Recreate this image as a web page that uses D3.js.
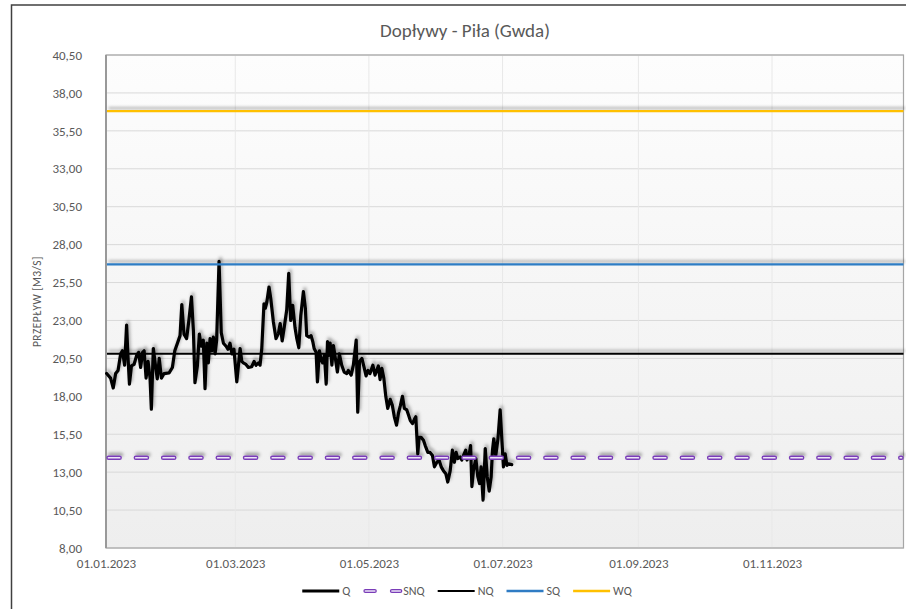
<!DOCTYPE html>
<html>
<head>
<meta charset="utf-8">
<script src="https://cdn.jsdelivr.net/npm/d3@7"></script>
<style>
  html, body { margin: 0; padding: 0; background: #ffffff; }
  svg { display: block; font-family: Carlito, Lato, "Open Sans", sans-serif; }
</style>
</head>
<body>
<svg id="chart" width="906" height="609"></svg>
<script>
// Daily inflow at Piła (Gwda), 2023: position in days since 1 Jan and flow in m3/s
const qDay = [
  0.3, 2.1, 3.3, 4.4, 5.5, 6.7, 7.5, 8.5, 9.4, 10.0, 10.7, 11.6, 12.8, 14.0, 14.9, 15.8, 16.7, 17.4, 18.3, 19.2,
  20.1, 20.7, 21.6, 22.7, 23.4, 24.3, 25.3, 26.5, 28.8, 30.3, 31.4, 32.6, 33.8, 34.6, 35.6, 36.8, 37.9, 39.0, 39.9, 40.6,
  41.7, 42.6, 43.5, 44.4, 45.2, 46.0, 46.7, 47.5, 48.3, 49.0, 49.8, 50.5, 51.6, 52.6, 53.6, 54.8, 55.7, 56.6, 57.5, 58.4,
  59.7, 61.2, 62.0, 62.7, 63.9, 65.0, 66.5, 67.6, 68.5, 69.6, 70.3, 71.1, 72.1, 72.7, 73.4, 74.4, 75.2, 76.4, 77.6, 78.7,
  79.5, 80.4, 81.4, 82.5, 83.4, 84.3, 85.2, 86.3, 87.1, 88.0, 88.9, 90.1, 91.0, 91.6, 92.7, 93.6, 94.4, 95.0, 95.9, 96.5,
  97.4, 98.2, 98.9, 99.7, 100.5, 101.1, 101.7, 102.3, 103.1, 103.8, 104.7, 105.6, 106.5, 107.6, 108.7, 109.9, 110.6, 111.9, 112.9, 114.2,
  114.9, 115.7, 116.8, 117.8, 118.7, 119.6, 120.5, 121.8, 122.8, 124.3, 125.1, 125.9, 126.8, 127.7, 128.6, 129.7, 130.7, 131.6, 132.6, 133.5,
  134.4, 135.3, 136.2, 137.3, 138.0, 138.9, 139.9, 140.8, 141.4, 142.3, 142.9, 143.8, 144.9, 145.7, 146.9, 147.9, 149.0, 149.9, 151.0, 152.0,
  153.0, 154.0, 155.1, 156.0, 157.1, 158.1, 159.0, 159.8, 160.6, 161.6, 162.4, 163.2, 164.2, 164.8, 165.8, 166.4, 167.0, 167.7, 168.8, 169.7,
  170.5, 171.2, 172.1, 173.1, 174.0, 174.9, 175.8, 176.4, 177.0, 177.9, 178.9, 179.9, 180.7, 181.4, 182.2, 183.0, 183.7, 185.2
];
const qFlow = [
  19.5, 19.2, 18.55, 19.5, 19.7, 20.8, 21.0, 20.05, 22.7, 20.7, 18.8, 20.0, 20.1, 20.7, 20.9, 19.9, 20.9, 21.0, 19.2, 20.3,
  19.2, 17.15, 21.15, 19.9, 19.15, 20.5, 19.2, 19.5, 19.55, 19.9, 21.0, 21.5, 22.0, 24.05, 22.1, 21.8, 23.1, 24.55, 22.3, 18.9,
  20.0, 22.1, 21.3, 21.7, 18.5, 21.5, 20.2, 21.8, 21.0, 21.9, 20.8, 21.7, 26.9, 22.2, 21.5, 21.3, 21.1, 21.5, 20.8, 21.1,
  18.95, 21.15, 20.3, 20.2, 20.1, 19.9, 19.95, 20.3, 20.05, 20.2, 20.05, 21.15, 24.1, 23.8, 24.2, 25.2, 24.45, 22.9, 21.8, 22.15,
  22.8, 21.65, 22.6, 23.7, 26.1, 23.0, 24.0, 22.5, 21.8, 21.2, 23.3, 24.9, 23.8, 22.0, 21.9, 22.0, 21.6, 21.15, 20.9, 18.95,
  21.0, 20.4, 20.2, 20.7, 18.8, 21.6, 20.7, 21.5, 20.05, 21.35, 20.5, 19.6, 20.8, 20.05, 19.6, 19.5, 19.7, 19.4, 20.05, 21.7,
  16.95, 20.3, 20.5, 19.9, 19.35, 19.7, 19.5, 20.05, 19.4, 20.0, 19.1, 19.85, 19.2, 18.0, 17.2, 17.8, 17.4, 16.65, 16.1, 16.9,
  17.4, 18.0, 17.2, 17.1, 16.8, 16.4, 16.2, 16.5, 16.65, 14.2, 15.3, 15.3, 15.1, 14.75, 14.3, 14.3, 14.1, 13.35, 13.65, 13.8,
  13.35, 13.1, 12.9, 12.35, 13.1, 14.45, 13.65, 14.3, 13.9, 14.0, 13.8, 14.1, 14.45, 13.8, 14.2, 14.75, 12.05, 13.1, 13.9, 12.7,
  12.25, 13.35, 11.15, 14.55, 12.7, 11.75, 12.7, 14.45, 15.2, 14.1, 15.2, 17.1, 15.1, 13.35, 14.2, 13.45, 13.55, 13.5
];

// Characteristic flows (m3/s)
const snqValue = 13.95;
const nqValue = 20.8;
const sqValue = 26.7;
const wqValue = 36.8;

const yTicks = [8, 10.5, 13, 15.5, 18, 20.5, 23, 25.5, 28, 30.5, 33, 35.5, 38, 40.5];
const seriesNames = ["Q", "SNQ", "NQ", "SQ", "WQ"];
const chartTitle = "Dopływy - Piła (Gwda)";
const yTitle = "PRZEPŁYW [M3/S]";

const yearStart = new Date(2023, 0, 1);
const yearEnd = new Date(2023, 11, 31);

const svg = d3.select("#chart");
const W = 906, H = 609;
const plot = { left: 106, right: 903.5, top: 55, bottom: 548 };

const x = d3.scaleTime().domain([yearStart, yearEnd]).range([plot.left, plot.right]);
const y = d3.scaleLinear().domain([8, 40.5]).range([plot.bottom, plot.top]);

const dayToDate = d => new Date(yearStart.getTime() + d * 864e5);
const qData = qDay.map((d, i) => ({ date: dayToDate(d), value: qFlow[i] }));

const textColor = "#595959";

// Defs: plot gradient and soft line shadow
const defs = svg.append("defs");
const grad = defs.append("linearGradient").attr("id", "plotBg")
  .attr("x1", 0).attr("y1", 0).attr("x2", 0).attr("y2", 1);
grad.append("stop").attr("offset", "0%").attr("stop-color", "#fdfdfd");
grad.append("stop").attr("offset", "100%").attr("stop-color", "#eeeeee");

const shadow = defs.append("filter").attr("id", "lineShadow")
  .attr("filterUnits", "userSpaceOnUse")
  .attr("x", 0).attr("y", 0).attr("width", W).attr("height", H);
shadow.append("feDropShadow")
  .attr("dx", 1.5).attr("dy", -3).attr("stdDeviation", 1.7)
  .attr("flood-color", "#000").attr("flood-opacity", 0.3);

// Outer chart frame
svg.append("rect").attr("x", 11.5).attr("y", 5).attr("width", W + 20).attr("height", H + 20)
  .attr("fill", "#ffffff").attr("stroke", "#404040").attr("stroke-width", 1.5);

// Title
svg.append("text").attr("x", 465).attr("y", 37).attr("text-anchor", "middle")
  .attr("font-size", 19).attr("fill", textColor).text(chartTitle);

// Plot background
svg.append("rect").attr("x", plot.left).attr("y", plot.top)
  .attr("width", plot.right - plot.left).attr("height", plot.bottom - plot.top)
  .attr("fill", "url(#plotBg)");

// Horizontal gridlines
svg.append("g").selectAll("line").data(yTicks).join("line")
  .attr("x1", plot.left).attr("x2", plot.right)
  .attr("y1", d => y(d)).attr("y2", d => y(d))
  .attr("stroke", "#d9d9d9").attr("stroke-width", 1);

// Vertical gridlines at date ticks
const xTicks = d3.timeMonth.every(2).range(yearStart, yearEnd);
svg.append("g").selectAll("line").data(xTicks.slice(1)).join("line")
  .attr("x1", d => x(d)).attr("x2", d => x(d))
  .attr("y1", plot.top).attr("y2", plot.bottom)
  .attr("stroke", "#e8e8e8").attr("stroke-width", 1);

// Plot border
svg.append("rect").attr("x", plot.left).attr("y", plot.top)
  .attr("width", plot.right - plot.left).attr("height", plot.bottom - plot.top)
  .attr("fill", "none").attr("stroke", "#a6a6a6").attr("stroke-width", 1.2);
svg.append("line").attr("x1", plot.left).attr("x2", plot.left)
  .attr("y1", plot.top).attr("y2", plot.bottom)
  .attr("stroke", "#999999").attr("stroke-width", 2);

// Y axis labels (right-aligned, decimal comma)
const fmt = d => d3.format(".2f")(d).replace(".", ",");
const yAxis = d3.axisLeft(y).tickValues(yTicks).tickFormat(fmt).tickSize(0).tickPadding(0);
const yAxisG = svg.append("g").attr("transform", "translate(82,0)").call(yAxis);
yAxisG.select(".domain").remove();
yAxisG.selectAll("text").attr("fill", textColor).attr("font-size", 13)
  .attr("font-family", null);
yAxisG.attr("font-family", null);

// X axis labels
const xAxis = d3.axisBottom(x).tickValues(xTicks).tickFormat(d3.timeFormat("%d.%m.%Y")).tickSize(0).tickPadding(0);
const xAxisG = svg.append("g").attr("transform", `translate(0,${plot.bottom + 11})`).call(xAxis);
xAxisG.select(".domain").remove();
xAxisG.selectAll("text").attr("fill", textColor).attr("font-size", 13);
xAxisG.attr("font-family", null);

// Y axis title
svg.append("text")
  .attr("transform", `translate(41,${(plot.top + plot.bottom) / 2}) rotate(-90)`)
  .attr("text-anchor", "middle").attr("font-size", 11.5).attr("fill", textColor)
  .attr("letter-spacing", 0.4)
  .text(yTitle);

// Series
const series = svg.append("g");
const qLine = d3.line().x(d => x(d.date)).y(d => y(d.value)).curve(d3.curveLinear);

series.append("path").datum(qData)
  .attr("d", qLine).attr("fill", "none")
  .attr("stroke", "#000000").attr("stroke-width", 3.2)
  .attr("stroke-linejoin", "round").attr("stroke-linecap", "round")
  .attr("filter", "url(#lineShadow)");

function hLine(value, color, width) {
  series.append("line")
    .attr("x1", plot.left + 1).attr("x2", plot.right)
    .attr("y1", y(value)).attr("y2", y(value))
    .attr("stroke", color).attr("stroke-width", width)
    .attr("filter", "url(#lineShadow)");
}

// SNQ: outlined dashes
const snqG = series.append("g").attr("filter", "url(#lineShadow)");
snqG.append("line")
  .attr("x1", plot.left + 2.5).attr("x2", plot.right - 2)
  .attr("y1", y(snqValue)).attr("y2", y(snqValue))
  .attr("stroke", "#7a3db8").attr("stroke-width", 4.4)
  .attr("stroke-dasharray", "11.2,16.1").attr("stroke-linecap", "round");
snqG.append("line")
  .attr("x1", plot.left + 2.5).attr("x2", plot.right - 2)
  .attr("y1", y(snqValue)).attr("y2", y(snqValue))
  .attr("stroke", "#ece4f6").attr("stroke-width", 1.7)
  .attr("stroke-dasharray", "11.2,16.1").attr("stroke-linecap", "round");

hLine(nqValue, "#000000", 2);
hLine(sqValue, "#2f7cc4", 2.4);
hLine(wqValue, "#ffc000", 2.4);

// Legend
const legendY = 591;
const legendStyles = {
  Q:   { color: "#000000", width: 3 },
  SNQ: { color: "#7a3db8", width: 4, dashed: true },
  NQ:  { color: "#000000", width: 2 },
  SQ:  { color: "#2f7cc4", width: 2.4 },
  WQ:  { color: "#ffc000", width: 2.4 }
};
const legend = svg.append("g");
const sampleLen = 37, textGap = 3, itemGap = 13;
const items = legend.selectAll("g").data(seriesNames).join("g");
items.append("text").attr("class", "lbl")
  .attr("font-size", 12).attr("fill", textColor).attr("dy", "0.35em")
  .text(d => d);
const widths = [];
items.select("text").each(function () { widths.push(this.getComputedTextLength()); });
const total = d3.sum(widths) + seriesNames.length * (sampleLen + textGap) + (seriesNames.length - 1) * itemGap;
let cursor = 467 - total / 2;
items.each(function (name, i) {
  const g = d3.select(this);
  const st = legendStyles[name];
  const x0 = cursor;
  if (st.dashed) {
    g.append("line").attr("x1", x0 + 2).attr("x2", x0 + sampleLen)
      .attr("y1", legendY).attr("y2", legendY)
      .attr("stroke", st.color).attr("stroke-width", 4)
      .attr("stroke-dasharray", "9.5,17").attr("stroke-linecap", "round");
    g.append("line").attr("x1", x0 + 2).attr("x2", x0 + sampleLen)
      .attr("y1", legendY).attr("y2", legendY)
      .attr("stroke", "#ece4f6").attr("stroke-width", 1.5)
      .attr("stroke-dasharray", "9.5,17").attr("stroke-linecap", "round");
  } else {
    g.append("line").attr("x1", x0).attr("x2", x0 + sampleLen)
      .attr("y1", legendY).attr("y2", legendY)
      .attr("stroke", st.color).attr("stroke-width", st.width);
  }
  g.select("text").attr("x", x0 + sampleLen + textGap).attr("y", legendY);
  cursor += sampleLen + textGap + widths[i] + itemGap;
});
</script>
</body>
</html>
